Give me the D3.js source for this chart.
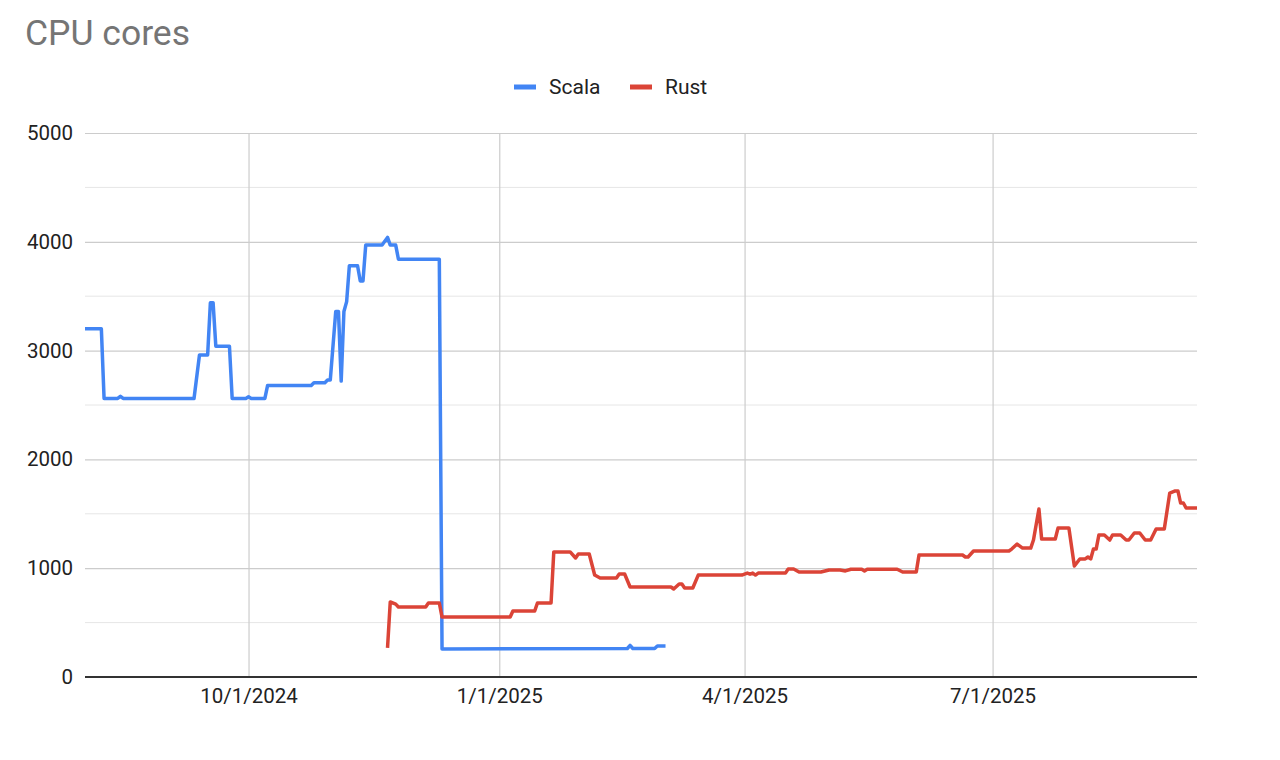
<!DOCTYPE html>
<html>
<head>
<meta charset="utf-8">
<script src="https://cdn.jsdelivr.net/npm/d3@7"></script>
<style>
  html, body { margin: 0; padding: 0; background: #fff; }
  svg { display: block; font-family: Roboto, "Noto Sans", Arial, sans-serif; }
</style>
</head>
<body>
<svg id="chart" width="1280" height="760"></svg>
<script>
const title = "CPU cores";
const seriesNames = ["Scala", "Rust"];
const seriesColors = ["#4285F4", "#DB4437"];
const yTicks = [0, 1000, 2000, 3000, 4000, 5000];
const yMinorTicks = [500, 1500, 2500, 3500, 4500];
const xTickDates = ["2024-10-01", "2025-01-01", "2025-04-01", "2025-07-01"];
const xDomain = ["2024-08-02", "2025-09-14"];

const scalaData = [
  ["2024-08-02",3200],["2024-08-08",3200],["2024-08-09",2560],["2024-08-14",2560],
  ["2024-08-15",2580],["2024-08-16",2560],["2024-09-11",2560],["2024-09-13",2960],
  ["2024-09-16",2960],["2024-09-17",3440],["2024-09-18",3440],["2024-09-19",3040],
  ["2024-09-24",3040],["2024-09-25",2560],["2024-09-30",2560],["2024-10-01",2575],
  ["2024-10-02",2560],["2024-10-07",2560],["2024-10-08",2680],["2024-10-24",2680],
  ["2024-10-25",2705],["2024-10-29",2705],["2024-10-30",2730],["2024-10-31",2730],
  ["2024-11-02",3360],["2024-11-03",3360],["2024-11-04",2720],["2024-11-05",3360],
  ["2024-11-06",3450],["2024-11-07",3780],["2024-11-10",3780],["2024-11-11",3640],
  ["2024-11-12",3640],["2024-11-13",3970],["2024-11-19",3970],["2024-11-21",4040],
  ["2024-11-22",3970],["2024-11-24",3970],["2024-11-25",3840],["2024-12-10",3840],
  ["2024-12-11",257],["2025-02-17",262],["2025-02-18",290],["2025-02-19",262],
  ["2025-02-27",262],["2025-02-28",285],["2025-03-03",285]
];

const rustData = [
  ["2024-11-21",267],["2024-11-22",690],["2024-11-24",670],["2024-11-25",643],
  ["2024-12-05",643],["2024-12-06",680],["2024-12-10",680],["2024-12-11",551],
  ["2025-01-05",551],["2025-01-06",607],["2025-01-14",607],["2025-01-15",680],
  ["2025-01-20",680],["2025-01-21",1150],["2025-01-27",1150],["2025-01-29",1094],
  ["2025-01-30",1130],["2025-02-03",1130],["2025-02-05",937],["2025-02-07",910],
  ["2025-02-13",910],["2025-02-14",947],["2025-02-16",947],["2025-02-18",827],
  ["2025-03-05",827],["2025-03-06",809],["2025-03-08",855],["2025-03-09",855],
  ["2025-03-10",818],["2025-03-13",818],["2025-03-15",937],["2025-03-31",937],
  ["2025-04-02",955],["2025-04-03",945],["2025-04-04",955],["2025-04-05",937],
  ["2025-04-06",955],["2025-04-16",955],["2025-04-17",993],["2025-04-19",993],
  ["2025-04-21",965],["2025-04-29",965],["2025-05-02",983],["2025-05-06",983],
  ["2025-05-08",975],["2025-05-10",990],["2025-05-14",990],["2025-05-15",975],
  ["2025-05-16",990],["2025-05-27",990],["2025-05-29",965],["2025-06-03",965],
  ["2025-06-04",1121],["2025-06-20",1121],["2025-06-21",1103],["2025-06-22",1103],
  ["2025-06-24",1158],["2025-07-07",1158],["2025-07-08",1176],["2025-07-10",1222],
  ["2025-07-12",1185],["2025-07-15",1185],["2025-07-16",1259],["2025-07-18",1544],
  ["2025-07-19",1268],["2025-07-24",1268],["2025-07-25",1369],["2025-07-29",1369],
  ["2025-07-31",1020],["2025-08-02",1085],["2025-08-04",1085],["2025-08-05",1103],
  ["2025-08-06",1085],["2025-08-07",1176],["2025-08-08",1176],["2025-08-09",1305],
  ["2025-08-11",1305],["2025-08-13",1259],["2025-08-14",1305],["2025-08-17",1305],
  ["2025-08-19",1259],["2025-08-20",1259],["2025-08-22",1324],["2025-08-24",1324],
  ["2025-08-26",1259],["2025-08-28",1259],["2025-08-30",1360],["2025-09-02",1360],
  ["2025-09-04",1691],["2025-09-06",1710],["2025-09-07",1710],["2025-09-08",1599],
  ["2025-09-09",1599],["2025-09-10",1553],["2025-09-14",1553]
];

(function () {
const parse = d3.utcParse("%Y-%m-%d");
const fmt = d3.utcFormat("%-m/%-d/%Y");
const svg = d3.select("#chart");

const plotLeft = 85, plotRight = 1197, plotTop = 133, plotBottom = 677;
const x = d3.scaleUtc().domain(xDomain.map(parse)).range([plotLeft, plotRight]);
const y = d3.scaleLinear().domain([0, 5000]).range([plotBottom, plotTop]);

// title
svg.append("text").attr("x", 25).attr("y", 45)
  .attr("font-size", 35.5).attr("fill", "#757575").text(title);

// minor gridlines
svg.append("g").selectAll("line").data(yMinorTicks).join("line")
  .attr("x1", plotLeft).attr("x2", plotRight)
  .attr("y1", d => y(d)).attr("y2", d => y(d))
  .attr("stroke", "#e6e6e6").attr("stroke-width", 1);

// y axis (major gridlines)
const yAxis = svg.append("g").attr("transform", `translate(${plotLeft},0)`)
  .call(d3.axisLeft(y).tickValues(yTicks).tickSize(-(plotRight - plotLeft)).tickPadding(12).tickFormat(d3.format("d")));
yAxis.select(".domain").remove();
yAxis.selectAll(".tick line").attr("stroke", "#cccccc").attr("stroke-width", 1.2);
yAxis.selectAll(".tick text").attr("font-size", 20.5).attr("fill", "#222").attr("font-family", "Roboto");

// x axis (vertical gridlines)
const xAxis = svg.append("g").attr("transform", `translate(0,${plotBottom})`)
  .call(d3.axisBottom(x).tickValues(xTickDates.map(parse)).tickSize(-(plotBottom - plotTop)).tickPadding(11).tickFormat(fmt));
xAxis.select(".domain").remove();
xAxis.selectAll(".tick line").attr("stroke", "#cccccc").attr("stroke-width", 1.2);
xAxis.selectAll(".tick text").attr("font-size", 20.5).attr("fill", "#222").attr("font-family", "Roboto");

// baseline
svg.append("line").attr("x1", plotLeft).attr("x2", plotRight)
  .attr("y1", y(0)).attr("y2", y(0)).attr("stroke", "#333").attr("stroke-width", 2);

// lines
const line = d3.line().x(d => x(parse(d[0]))).y(d => y(d[1]));
[scalaData, rustData].forEach((data, i) => {
  svg.append("path").datum(data).attr("d", line)
    .attr("fill", "none").attr("stroke", seriesColors[i])
    .attr("stroke-width", 3.5).attr("stroke-linejoin", "round");
});

// legend
const legendPos = [[514, 549], [630, 665]];
seriesNames.forEach((name, i) => {
  const g = svg.append("g");
  g.append("line").attr("x1", legendPos[i][0]).attr("x2", legendPos[i][0] + 22)
    .attr("y1", 87).attr("y2", 87).attr("stroke", seriesColors[i]).attr("stroke-width", 5);
  g.append("text").attr("x", legendPos[i][1]).attr("y", 87).attr("dy", "0.35em")
    .attr("font-size", 21).attr("fill", "#222").text(name);
});
})();
</script>
</body>
</html>
